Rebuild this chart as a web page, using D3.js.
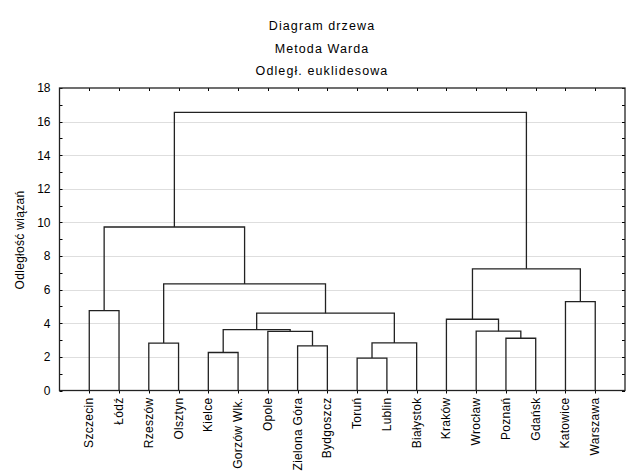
<!DOCTYPE html>
<html><head><meta charset="utf-8">
<script src="https://cdn.jsdelivr.net/npm/d3@7"></script>
<style>
html,body{margin:0;padding:0;background:#fff;}
svg text{font-family:"Liberation Sans",Arial,sans-serif;fill:#000;}
</style></head>
<body><svg id="c" width="629" height="473"></svg>
<script>
// Data
const leaves = ["Szczecin","Łódź","Rzeszów","Olsztyn","Kielce","Gorzów Wlk.","Opole","Zielona Góra","Bydgoszcz","Toruń","Lublin","Białystok","Kraków","Wrocław","Poznań","Gdańsk","Katowice","Warszawa"];
// merges: ids < 18 are leaves; merge k gets id 18 + k
const mergeA = [9, 4, 7, 2, 18, 14, 6, 13, 19, 12, 26, 0, 16, 21, 27, 29, 33];
const mergeB = [10, 5, 8, 3, 11, 15, 20, 23, 24, 25, 22, 1, 17, 28, 30, 31, 32];
const mergeH = [1.93, 2.26, 2.66, 2.82, 2.83, 3.11, 3.52, 3.53, 3.62, 4.24, 4.6, 4.75, 5.29, 6.34, 7.24, 9.73, 16.55];
const yTicks = [0,2,4,6,8,10,12,14,16,18];
const titles = ["Diagram drzewa","Metoda Warda","Odległ. euklidesowa"];
const yLabel = "Odległość wiązań";

const svg = d3.select("#c");
const L = 59.5, R = 625, T = 88, B = 390.5;
const x = d3.scalePoint().domain(leaves).range([L, R]).padding(1);
const y = d3.scaleLinear().domain([0, 18]).range([B, T]);

svg.append("rect").attr("x",0).attr("y",0).attr("width",629).attr("height",473).attr("fill","#fff");

// grid
const g = svg.append("g");
g.selectAll("line.grid").data(yTicks.filter(d=>d>0 && d<18)).enter().append("line")
  .attr("x1",L).attr("x2",R).attr("y1",d=>Math.round(y(d))+0.5).attr("y2",d=>Math.round(y(d))+0.5)
  .attr("stroke","#bdbdbd").attr("stroke-width",1).attr("stroke-dasharray","1,1");

// node positions
const nx = leaves.map(d=>x(d));
const nh = leaves.map(()=>0);
mergeA.forEach((a,k)=>{
  const b = mergeB[k];
  nx.push((nx[a]+nx[b])/2);
  nh.push(mergeH[k]);
});
const links = g.append("g").attr("fill","none").attr("stroke","#222").attr("stroke-width",1.3);
mergeA.forEach((a,k)=>{
  const b = mergeB[k], h = mergeH[k];
  const p = d3.path();
  p.moveTo(nx[a], y(nh[a])); p.lineTo(nx[a], y(h)); p.lineTo(nx[b], y(h)); p.lineTo(nx[b], y(nh[b]));
  links.append("path").attr("d", p.toString());
});

// axes
const ax = svg.append("g");
const yAxis = d3.axisLeft(y).tickValues(yTicks).tickSize(0).tickPadding(9).tickFormat(d3.format("d"));
ax.append("g").attr("transform",`translate(${L},0)`).call(yAxis)
  .call(s=>s.select(".domain").remove())
  .call(s=>s.selectAll("text").attr("font-size","12px").attr("font-family","Liberation Sans, Arial, sans-serif"));
// minor/major ticks inside
const allT = d3.range(0,19);
ax.selectAll("line.lt").data(allT).enter().append("line")
  .attr("x1",L).attr("x2",L+3).attr("y1",d=>Math.round(y(d))+0.5).attr("y2",d=>Math.round(y(d))+0.5).attr("stroke","#000");
ax.selectAll("line.rt").data(allT).enter().append("line")
  .attr("x1",R-3).attr("x2",R).attr("y1",d=>Math.round(y(d))+0.5).attr("y2",d=>Math.round(y(d))+0.5).attr("stroke","#000");
ax.selectAll("line.tt").data(leaves).enter().append("line")
  .attr("x1",d=>Math.round(x(d))+0.5).attr("x2",d=>Math.round(x(d))+0.5).attr("y1",T).attr("y2",T+3).attr("stroke","#000");
ax.selectAll("line.bt").data(leaves).enter().append("line")
  .attr("x1",d=>Math.round(x(d))+0.5).attr("x2",d=>Math.round(x(d))+0.5).attr("y1",B).attr("y2",B+3).attr("stroke","#000");
svg.append("rect").attr("x",L).attr("y",T).attr("width",R-L).attr("height",B-T)
  .attr("fill","none").attr("stroke","#222").attr("stroke-width",1.3);

// leaf labels
svg.append("g").selectAll("text").data(leaves).enter().append("text")
  .attr("transform",d=>`translate(${x(d)+4},${B+7}) rotate(-90)`)
  .attr("text-anchor","end").attr("font-size","12px").attr("letter-spacing","0.3px")
  .text(d=>d);

// titles
svg.append("g").selectAll("text").data(titles).enter().append("text")
  .attr("x",322).attr("y",(d,i)=>30+i*22.5).attr("text-anchor","middle")
  .attr("font-size","12.5px").attr("letter-spacing","1.1px").text(d=>d);

svg.append("text").attr("transform","translate(24,240) rotate(-90)")
  .attr("text-anchor","middle").attr("font-size","12px").attr("letter-spacing","0.3px").text(yLabel);
</script></body></html>
